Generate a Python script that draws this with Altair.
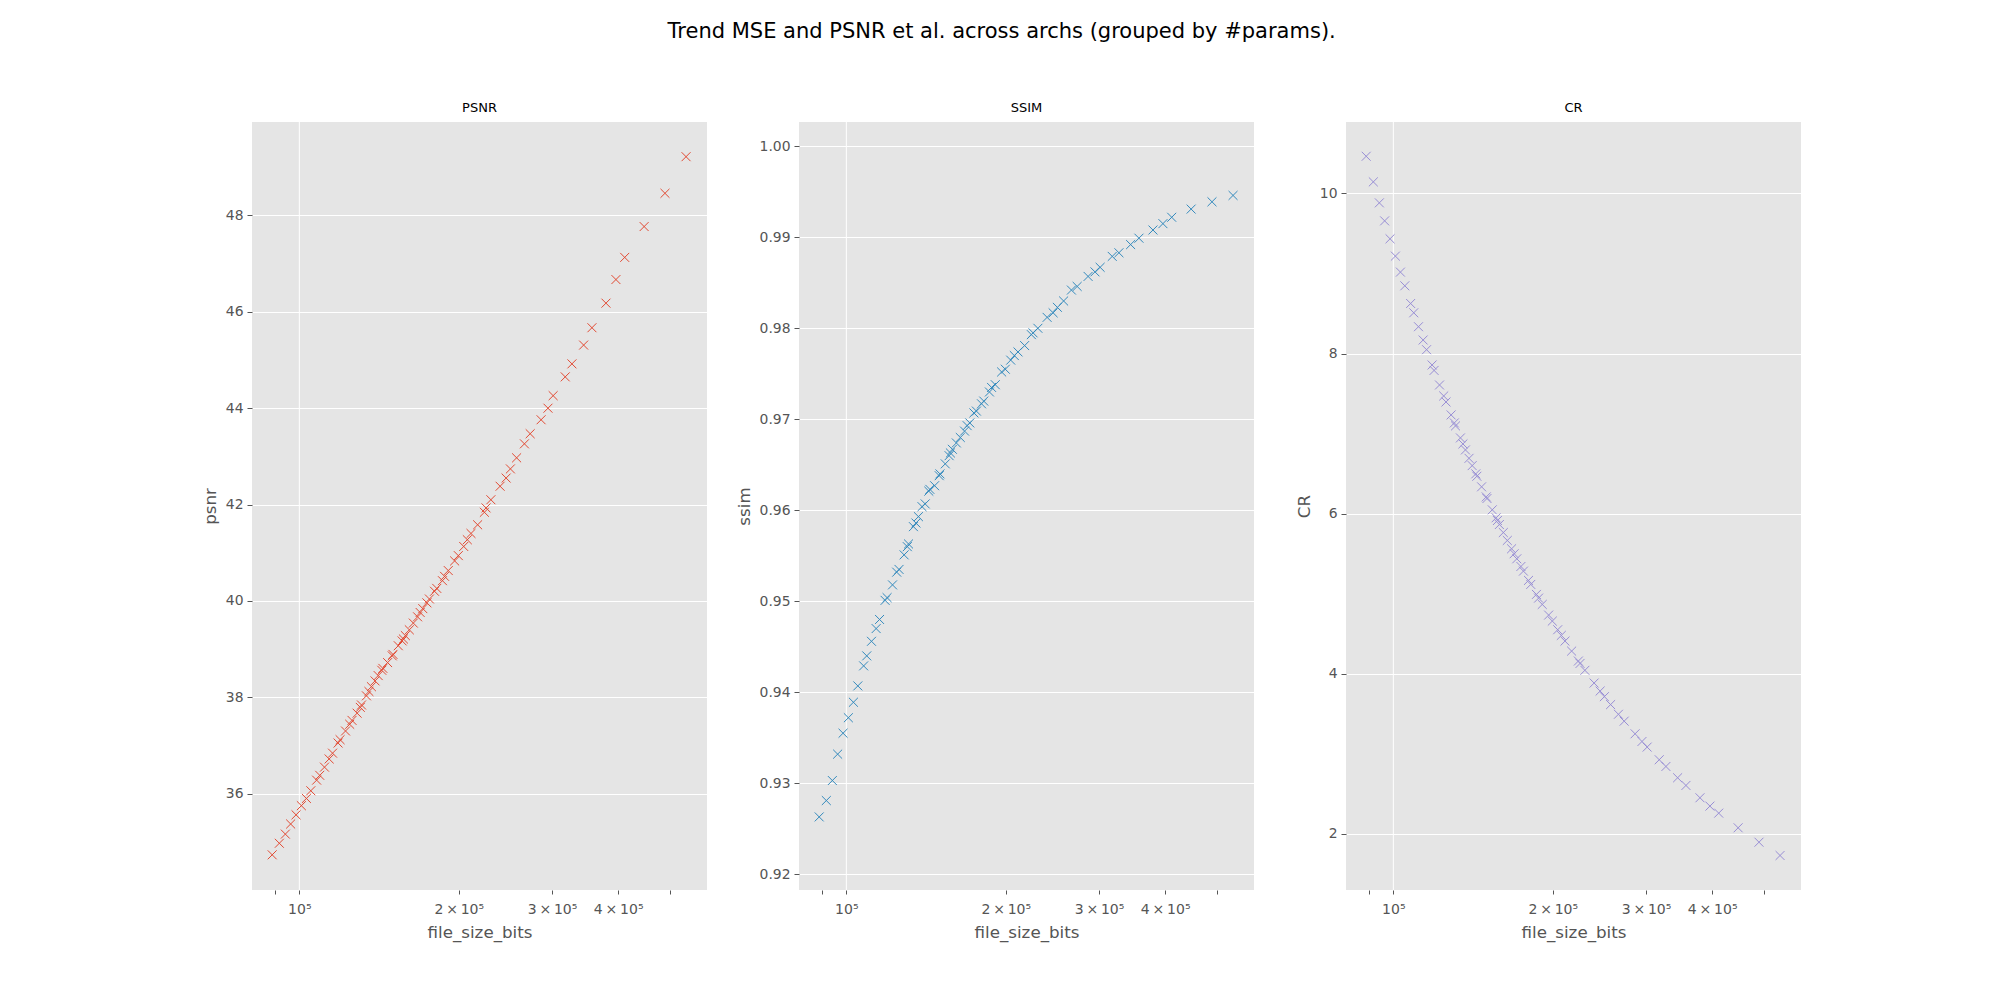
import altair as alt
import pandas as pd

# ---- data ----
file_size_bits = [88870, 91670, 94100, 96290, 98580, 100890, 103130, 105120, 107810, 109280,
                  111560, 113830, 115540, 118350, 119380, 122240, 124480, 125740, 128560, 130360,
                  131040, 133870, 135330, 136820, 138970, 140890, 143120, 143780, 146780, 149760,
                  150240, 153740, 156330, 157230, 158570, 161320, 164140, 167210, 169090, 171050,
                  174130, 176040, 179990, 181750, 186300, 188030, 191080, 196450, 199610, 204350,
                  207590, 210930, 217090, 223560, 225180, 229970, 239380, 245710, 250340, 257190,
                  266090, 272810, 286070, 294770, 301460, 317730, 327120, 344190, 356870, 379280,
                  396080, 411500, 447760, 490250, 537260]
psnr = [34.73, 34.97, 35.16, 35.37, 35.56, 35.75, 35.90, 36.06, 36.28, 36.38,
        36.55, 36.72, 36.84, 37.05, 37.12, 37.30, 37.44, 37.52, 37.67, 37.79,
        37.84, 38.03, 38.12, 38.22, 38.34, 38.45, 38.56, 38.60, 38.72, 38.86,
        38.89, 39.07, 39.17, 39.21, 39.28, 39.40, 39.54, 39.67, 39.76, 39.84,
        39.96, 40.04, 40.20, 40.26, 40.42, 40.51, 40.63, 40.83, 40.94, 41.13,
        41.27, 41.40, 41.58, 41.84, 41.93, 42.10, 42.38, 42.55, 42.74, 42.97,
        43.26, 43.47, 43.76, 44.00, 44.26, 44.65, 44.92, 45.31, 45.67, 46.18,
        46.67, 47.13, 47.77, 48.46, 49.22]
ssim = [0.9263, 0.9281, 0.9303, 0.9332, 0.9355, 0.9372, 0.9389, 0.9407, 0.9429, 0.9440,
        0.9456, 0.9470, 0.9480, 0.9501, 0.9504, 0.9518, 0.9532, 0.9535, 0.9551, 0.9560,
        0.9563, 0.9582, 0.9586, 0.9593, 0.9604, 0.9607, 0.9621, 0.9623, 0.9627, 0.9638,
        0.9640, 0.9651, 0.9660, 0.9663, 0.9667, 0.9674, 0.9680, 0.9687, 0.9693, 0.9696,
        0.9707, 0.9709, 0.9717, 0.9720, 0.9730, 0.9735, 0.9738, 0.9752, 0.9755, 0.9765,
        0.9770, 0.9774, 0.9781, 0.9793, 0.9795, 0.9800, 0.9812, 0.9817, 0.9823, 0.9830,
        0.9842, 0.9846, 0.9857, 0.9862, 0.9867, 0.9879, 0.9883, 0.9892, 0.9899, 0.9908,
        0.9915, 0.9922, 0.9931, 0.9939, 0.9946]
cr = [10.465, 10.145, 9.883, 9.658, 9.434, 9.218, 9.018, 8.847, 8.626, 8.510,
      8.336, 8.170, 8.049, 7.858, 7.790, 7.608, 7.471, 7.396, 7.234, 7.134,
      7.097, 6.947, 6.872, 6.797, 6.692, 6.601, 6.498, 6.468, 6.336, 6.210,
      6.190, 6.049, 5.949, 5.915, 5.865, 5.765, 5.666, 5.562, 5.500, 5.437,
      5.341, 5.283, 5.167, 5.117, 4.992, 4.946, 4.867, 4.734, 4.659, 4.551,
      4.480, 4.409, 4.284, 4.160, 4.130, 4.044, 3.885, 3.785, 3.715, 3.616,
      3.495, 3.409, 3.251, 3.155, 3.085, 2.927, 2.843, 2.702, 2.606, 2.452,
      2.348, 2.260, 2.077, 1.897, 1.731]

panel_titles = ["PSNR", "SSIM", "CR"]
y_fields = ["psnr", "ssim", "CR"]
colors = ["#E24A33", "#348ABD", "#988ED5"]
x_ticks = [90000, 100000, 200000, 300000, 400000, 500000]
x_tick_labels = {100000: "10⁵", 200000: "2\u2009×\u200910⁵", 300000: "3\u2009×\u200910⁵",
                 400000: "4\u2009×\u200910⁵"}
x_domain = [81400, 588500]
y_domains = [[34.0, 49.94], [0.91827, 1.00267], [1.30, 10.893]]
y_ticks = [[36, 38, 40, 42, 44, 46, 48],
           [0.92, 0.93, 0.94, 0.95, 0.96, 0.97, 0.98, 0.99, 1.00],
           [2, 4, 6, 8, 10]]
y_formats = ["d", ".2f", "d"]
suptitle = "Trend MSE and PSNR et al. across archs (grouped by #params)."

df = pd.DataFrame({"file_size_bits": file_size_bits, "psnr": psnr, "ssim": ssim, "CR": cr})
vline_df = pd.DataFrame({"file_size_bits": [100000]})

FONT = "DejaVu Sans"
GRAY = "#555555"
X_PATH = "M -1 -1 L 1 1 M -1 1 L 1 -1"

label_expr = ""
for v, t in x_tick_labels.items():
    label_expr += f"datum.value == {v} ? '{t}' : "
label_expr += "''"


def x_enc():
    return alt.X(
        "file_size_bits:Q",
        scale=alt.Scale(type="log", domain=x_domain, nice=False),
        axis=alt.Axis(values=x_ticks, labelExpr=label_expr, grid=False, domain=False,
                      title="file_size_bits", tickColor=GRAY, tickSize=4, labelColor=GRAY,
                      labelFontSize=14, labelPadding=8, titleColor=GRAY, titleFontSize=16.7,
                      titleFontWeight="normal", titlePadding=8, labelFlush=False),
    )


def panel(i):
    vline = alt.Chart(vline_df).mark_rule(color="white", strokeWidth=1).encode(x=x_enc())
    pts = alt.Chart(df).mark_point(shape=X_PATH, size=80, strokeWidth=1, filled=False,
                                   color=colors[i], opacity=1).encode(
        x=x_enc(),
        y=alt.Y(f"{y_fields[i]}:Q",
                scale=alt.Scale(domain=y_domains[i], nice=False, zero=False),
                axis=alt.Axis(values=y_ticks[i], format=y_formats[i], title=y_fields[i],
                              gridColor="white", gridWidth=1, gridOpacity=1, domain=False,
                              tickColor=GRAY, tickSize=5, labelColor=GRAY, labelFontSize=13.9,
                              labelPadding=4, titleColor=GRAY, titleFontSize=16.7,
                              titleFontWeight="normal", titlePadding=6)),
    )
    return alt.layer(vline, pts).properties(
        width=455, height=768,
        title=alt.TitleParams(panel_titles[i], fontSize=13, fontWeight="normal",
                              color="black", offset=7, font=FONT),
    )


chart = alt.hconcat(
    alt.hconcat(panel(0), panel(1), spacing=29),
    panel(2),
    spacing=42,
).properties(
    title=alt.TitleParams(suptitle, fontSize=21, fontWeight="normal", color="black",
                          anchor="middle", offset=60, font=FONT),
    padding={"left": 194, "top": 12, "right": 5, "bottom": 5},
).configure(font=FONT).configure_view(fill="#E5E5E5", stroke=None)

chart.save("out.html", embed_options={"renderer": "svg", "actions": False})
